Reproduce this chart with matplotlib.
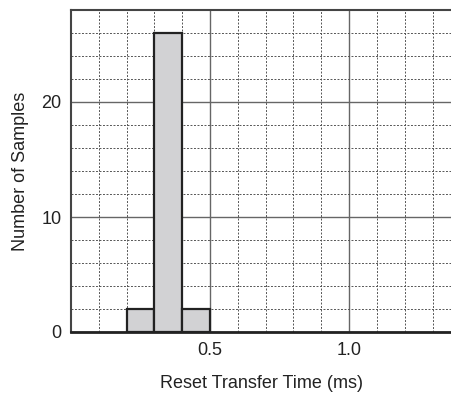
import matplotlib
matplotlib.use("Agg")
import matplotlib.pyplot as plt
from matplotlib.ticker import MultipleLocator, FixedLocator

plt.rcParams['font.family'] = ['Liberation Sans', 'DejaVu Sans']

bin_edges = [0.2, 0.3, 0.4, 0.5]
counts = [2, 26, 2]
x_ticks = [0.5, 1.0]
x_tick_labels = ["0.5", "1.0"]
y_ticks = [0, 10, 20]
y_tick_labels = ["0", "10", "20"]

fig = plt.figure(figsize=(4.52, 3.96), dpi=100)
ax = fig.add_axes([71/452, 64/396, 1 - 71/452, (332-10)/396])

lefts = bin_edges[:-1]
widths = [bin_edges[i+1] - bin_edges[i] for i in range(len(counts))]
ax.bar(lefts, counts, width=widths, align='edge', color='#d2d2d4',
       edgecolor='#222222', linewidth=1.6, zorder=3)

ax.set_xlim(0, 1.37)
ax.set_ylim(0, 28)

ax.xaxis.set_major_locator(FixedLocator(x_ticks))
ax.set_xticklabels(x_tick_labels)
ax.xaxis.set_minor_locator(MultipleLocator(0.1))
ax.yaxis.set_major_locator(FixedLocator(y_ticks))
ax.set_yticklabels(y_tick_labels)
ax.yaxis.set_minor_locator(MultipleLocator(2))

ax.grid(which='major', color='#666666', linewidth=1.0, linestyle='-', zorder=1)
ax.grid(which='minor', color='#555555', linewidth=0.7, linestyle=(0, (2, 1.6)), zorder=1)
ax.set_axisbelow(True)

ax.tick_params(which='both', length=0, labelsize=13, colors='#222222', pad=7)
ax.tick_params(axis='y', pad=7)

for s in ['left', 'top']:
    ax.spines[s].set_color('#444444')
    ax.spines[s].set_linewidth(1.5)
ax.spines['right'].set_visible(False)
ax.spines['bottom'].set_linewidth(2.0)
ax.spines['bottom'].set_color('#222222')

ax.set_xlabel('Reset Transfer Time (ms)', fontsize=13, color='#222222', labelpad=12)
ax.set_ylabel('Number of Samples', fontsize=13, color='#222222', labelpad=9)

fig.savefig('out.png', dpi=100)
